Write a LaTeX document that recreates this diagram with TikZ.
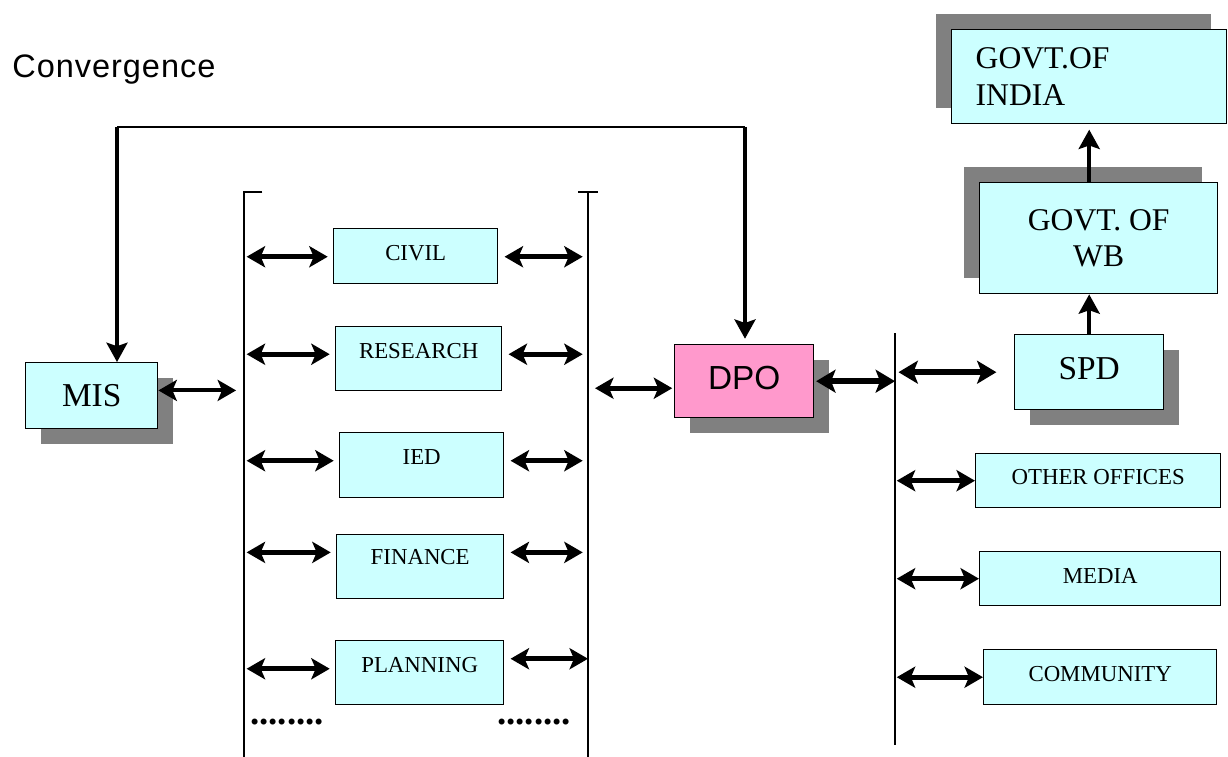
\documentclass[tikz,border=0pt]{standalone}
\usepackage{fontspec}
\setmainfont{Liberation Serif}
\setsansfont{Liberation Sans}
\usepackage{xcolor}
\usepackage{tikz}
\usetikzlibrary{arrows.meta,shadows}

\definecolor{boxcyan}{HTML}{CCFFFF}
\definecolor{dpopink}{HTML}{FF99CC}
\definecolor{shadegray}{HTML}{808080}

\begin{document}
\begin{tikzpicture}[
  x=0.02cm, y=-0.02cm,
  box/.style={draw, fill=boxcyan, line width=0.8pt, anchor=north west,
              inner sep=0pt, font=\fontsize{13}{15}\selectfont},
  sz/.style 2 args={minimum width=#1*0.02cm, minimum height=#2*0.02cm},
  lift/.style 2 args={text height=#1, text depth=#2},
  bigtxt/.style={font=\fontsize{19}{22}\selectfont},
  shadebr/.style={drop shadow={shadow xshift=0.3cm, shadow yshift=-0.3cm,
                  fill=shadegray, opacity=1}},
  shadetl/.style={drop shadow={shadow xshift=-0.32cm, shadow yshift=0.32cm,
                  fill=shadegray, opacity=1}},
  bus/.style={line width=0.9pt},
  fbline/.style={line width=1pt},
  fbarr/.style={-{Stealth[length=11pt,width=12pt,inset=2pt]}, line width=1.8pt},
  uparr/.style={-{Stealth[length=11pt,width=12pt,inset=2pt]}, line width=2pt},
  dblarr/.style={{Stealth[length=10.5pt,width=12pt,inset=2.5pt]}-{Stealth[length=10.5pt,width=12pt,inset=2.5pt]},
                 line width=2.8pt, shorten <=1.5pt, shorten >=3pt},
  dblthick/.style={{Stealth[length=11pt,width=13pt,inset=2.5pt]}-{Stealth[length=11pt,width=13pt,inset=2.5pt]},
                   line width=3.6pt, shorten <=1pt, shorten >=1pt},
  dotrow/.style={inner sep=0pt, font=\fontsize{21}{21}\selectfont\bfseries}
]
\useasboundingbox (0,0) rectangle (1228,757);

\node[anchor=west, inner sep=0pt,
      font=\sffamily\fontsize{18.5}{20}\selectfont\addfontfeature{LetterSpace=3}]
  (title) at (12,70) {Convergence};

% boxes
\node[box, sz={132}{66}, bigtxt, shadebr] (mis) at (25,362) {MIS};
\node[box, sz={164}{55}, lift={9pt}{3.8pt}] (civil) at (333,228) {CIVIL};
\node[box, sz={166}{64}, lift={9pt}{9.5pt}] (research) at (335,326) {RESEARCH};
\node[box, sz={164}{65}, lift={9pt}{9.5pt}] (ied) at (339,432) {IED};
\node[box, sz={167}{64}, lift={9pt}{11.7pt}] (finance) at (336,534) {FINANCE};
\node[box, sz={168}{64}, lift={9pt}{8.9pt}] (planning) at (335,640) {PLANNING};
\node[dotrow] (dotsl) at (287,722) {........};
\node[dotrow] (dotsr) at (534,722) {........};

\node[box, sz={139}{73}, fill=dpopink, font=\sffamily\fontsize{19}{22}\selectfont,
      lift={14pt}{4.9pt}, shadebr] (dpo) at (674,344) {DPO};
\node[box, sz={149}{75}, bigtxt, lift={13pt}{4.9pt}, shadebr] (spd) at (1014,334) {SPD};
\node[box, sz={238}{111}, font=\fontsize{18}{20.5}\selectfont, align=center,
      shadetl] (wb) at (979,182) {GOVT. OF\\WB};
\node[box, minimum height=94*0.02cm, text width=227*0.02cm, inner xsep=24*0.02cm,
      font=\fontsize{18}{21}\selectfont, align=left, shadetl] (india) at (951,29)
      {GOVT.OF\\INDIA};
\node[box, sz={245}{54}, lift={9pt}{5pt}] (other) at (975,453) {OTHER OFFICES};
\node[box, sz={241}{54}, lift={9pt}{3.8pt}] (media) at (979,551) {MEDIA};
\node[box, sz={233}{55}, lift={9pt}{3.8pt}] (community) at (983,649) {COMMUNITY};

% buses
\coordinate (lbT) at (244,192);
\coordinate (lbB) at (244,757);
\coordinate (rbT) at (588,192);
\coordinate (rbB) at (588,757);
\coordinate (sbT) at (895,333);
\coordinate (sbB) at (895,745);
\draw[bus] ([xshift=10.5pt]lbT) -- (lbT) -- (lbB);
\draw[bus] ([xshift=-5.5pt]rbT) -- ([xshift=5.5pt]rbT);
\draw[bus] (rbT) -- (rbB);
\draw[bus] (sbT) -- (sbB);

% feedback line
\coordinate (fbL) at (117,127);
\coordinate (fbR) at (745,127);
\draw[fbline] (fbL) -- (fbR);
\draw[fbarr] (fbL) -- (fbL |- mis.north);
\draw[fbarr, shorten >=3pt] (fbR) -- (fbR |- dpo.north);

% links
\coordinate (misR) at ([yshift=3pt]mis.east);
\draw[dblarr, line width=2.3pt, shorten <=0pt, shorten >=4.5pt] (misR) -- (misR -| lbT);
\draw[dblarr] (lbT |- civil.mid west) -- (civil.mid west);
\draw[dblarr] (lbT |- research.mid west) -- (research.mid west);
\draw[dblarr] (lbT |- ied.mid west) -- (ied.mid west);
\coordinate (finL) at ([yshift=4.5pt]finance.mid west);
\draw[dblarr] (lbT |- finL) -- (finL);
\draw[dblarr] (lbT |- planning.mid west) -- (planning.mid west);
\draw[dblarr, shorten <=3.5pt] (civil.mid east) -- (civil.mid east -| rbT);
\draw[dblarr, shorten <=3.5pt] (research.mid east) -- (research.mid east -| rbT);
\draw[dblarr, shorten <=3.5pt] (ied.mid east) -- (ied.mid east -| rbT);
\coordinate (finR) at ([yshift=4.5pt]finance.mid east);
\draw[dblarr, shorten <=3.5pt] (finR) -- (finR -| rbT);
\coordinate (plaR) at ([yshift=5.7pt]planning.mid east);
\draw[dblarr, shorten <=3.5pt, shorten >=0pt] (plaR) -- (plaR -| rbT);

\coordinate (dpoL) at ([yshift=-4pt]dpo.west);
\draw[dblarr, shorten <=4pt, shorten >=1pt] (dpoL -| rbT) -- (dpoL);
\draw[dblthick, shorten >=0pt] (dpo.east) -- (dpo.east -| sbT);
\draw[dblthick, shorten <=2pt, shorten >=10pt] (spd.west -| sbT) -- (spd.west);
\draw[uparr] (spd.north) -- (spd.north |- wb.south);
\draw[uparr, shorten >=3pt] (spd.north |- wb.north) -- (spd.north |- india.south);

\draw[dblarr, shorten <=1pt, shorten >=0pt] (other.west -| sbT) -- (other.west);
\draw[dblarr, shorten <=1pt, shorten >=0pt] (media.west -| sbT) -- (media.west);
\draw[dblarr, shorten <=1pt, shorten >=0pt] (community.west -| sbT) -- (community.west);
\end{tikzpicture}
\end{document}
